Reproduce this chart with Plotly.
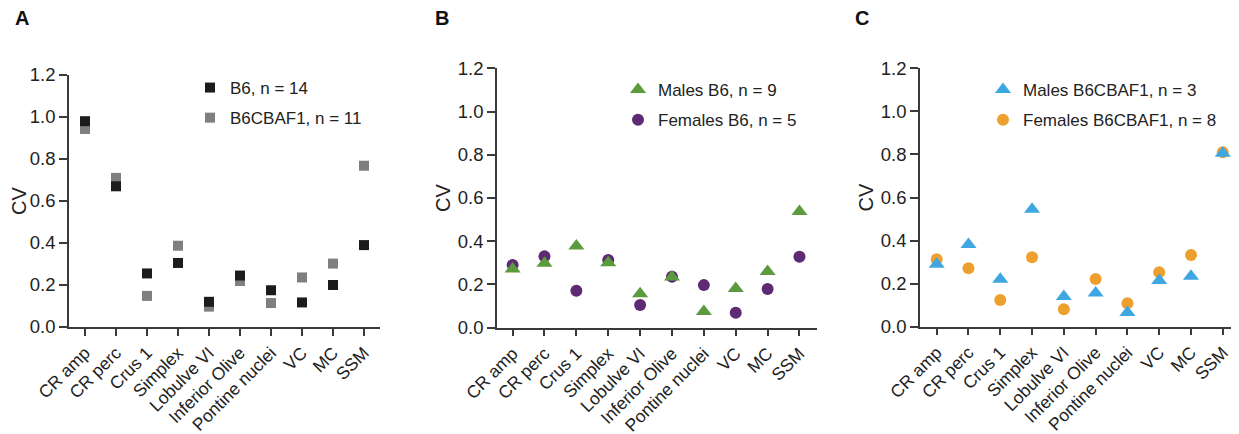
import plotly.graph_objects as go

# The page body has an 8px margin, so the figure is drawn 8px smaller and
# all reference pixel positions are shifted by that offset.
OFF = 8
W, H = 1239 - OFF, 434 - OFF

categories = ["CR amp", "CR perc", "Crus 1", "Simplex", "Lobulve VI", "Inferior Olive",
              "Pontine nuclei", "VC", "MC", "SSM"]

# Panel A
b6 = [0.98, 0.67, 0.255, 0.305, 0.12, 0.245, 0.175, 0.117, 0.20, 0.39]
b6cbaf1 = [0.943, 0.71, 0.148, 0.387, 0.097, 0.219, 0.114, 0.236, 0.302, 0.768]

# Panel B
males_b6 = [0.272, 0.298, 0.378, 0.30, 0.157, 0.235, 0.075, 0.181, 0.26, 0.538]
females_b6 = [0.29, 0.33, 0.171, 0.313, 0.105, 0.236, 0.197, 0.069, 0.179, 0.328]

# Panel C
males_cbaf = [0.29, 0.382, 0.22, 0.546, 0.14, 0.156, 0.066, 0.215, 0.234, 0.806]
females_cbaf = [0.313, 0.271, 0.124, 0.322, 0.081, 0.222, 0.109, 0.253, 0.333, 0.81]

panel_labels = ["A", "B", "C"]
y_ticks = [0.0, 0.2, 0.4, 0.6, 0.8, 1.0, 1.2]

FONT = "Arial, Liberation Sans, sans-serif"
AX = "#3a3a3a"

fig = go.Figure()

def px_x(p):
    return (p - OFF) / W

def px_y(p):
    return 1 - (p - OFF) / H

# Panel A (draw gray first, black on top)
fig.add_trace(go.Scatter(x=categories, y=b6cbaf1, mode="markers", name="B6CBAF1, n = 11",
                         marker=dict(symbol="square", size=10, color="#7f7f7f"),
                         xaxis="x", yaxis="y", legend="legend", legendrank=2,
                         legendgroup="a2", cliponaxis=False))
fig.add_trace(go.Scatter(x=categories, y=b6, mode="markers", name="B6, n = 14",
                         marker=dict(symbol="square", size=10, color="#1c1c1c"),
                         xaxis="x", yaxis="y", legend="legend", legendrank=1,
                         legendgroup="a1", cliponaxis=False))
# Panel B
fig.add_trace(go.Scatter(x=categories, y=females_b6, mode="markers", name="Females B6, n = 5",
                         marker=dict(symbol="circle", size=12, color="#5e2a73"),
                         xaxis="x2", yaxis="y2", legend="legend2", legendrank=2,
                         legendgroup="b2", cliponaxis=False))
fig.add_trace(go.Scatter(x=categories, y=males_b6, mode="markers", name="Males B6, n = 9",
                         marker=dict(symbol="triangle-up", size=14, color="#5c9b3d"),
                         xaxis="x2", yaxis="y2", legend="legend2", legendrank=1,
                         legendgroup="b1", cliponaxis=False))
# Panel C
fig.add_trace(go.Scatter(x=categories, y=females_cbaf, mode="markers", name="Females B6CBAF1, n = 8",
                         marker=dict(symbol="circle", size=12, color="#eea02f"),
                         xaxis="x3", yaxis="y3", legend="legend3", legendrank=2,
                         legendgroup="c2", cliponaxis=False))
fig.add_trace(go.Scatter(x=categories, y=males_cbaf, mode="markers", name="Males B6CBAF1, n = 3",
                         marker=dict(symbol="triangle-up", size=14, color="#3ea7e1"),
                         xaxis="x3", yaxis="y3", legend="legend3", legendrank=1,
                         legendgroup="c1", cliponaxis=False))

panels = [
    # (xaxis name, yaxis name, x0, x1, ytop, ybot, range lo, range hi)
    ("xaxis", "yaxis", 69, 380, 75, 327, -0.516, 9.516),
    ("xaxis2", "yaxis2", 497, 817, 68.3, 327.7, -0.49, 9.55),
    ("xaxis3", "yaxis3", 920, 1239, 68.3, 326.7, -0.525, 9.51),
]

layout = {}
for i, (xa, ya, x0, x1, yt, yb, lo, hi) in enumerate(panels):
    sfx = "" if i == 0 else str(i + 1)
    layout[xa] = dict(domain=[px_x(x0), min(1.0, px_x(x1))], anchor="y" + sfx, automargin=False,
                      type="category", categoryorder="array", categoryarray=categories,
                      range=[lo, hi], showline=True, linecolor=AX, linewidth=1.5,
                      ticks="outside", ticklen=7, tickwidth=1.5, tickcolor=AX,
                      tickangle=-45, showgrid=False, zeroline=False,
                      tickfont=dict(family=FONT, size=17.5, color="#222"))
    layout[ya] = dict(domain=[px_y(yb), px_y(yt)], anchor="x" + sfx, automargin=False,
                      range=[0, 1.2], tickvals=y_ticks, tickformat=".1f",
                      showline=True, linecolor=AX, linewidth=1.5,
                      ticks="outside", ticklen=8, tickwidth=1.5, tickcolor=AX,
                      showgrid=False, zeroline=False,
                      tickfont=dict(family=FONT, size=18.5, color="#222"),
                      title=dict(text="CV", font=dict(family=FONT, size=20, color="#222"),
                                 standoff=2))

leg_common = dict(xanchor="left", yanchor="top", bgcolor="rgba(0,0,0,0)",
                  font=dict(family=FONT, size=17, color="#222"), tracegroupgap=5,
                  itemclick=False, itemdoubleclick=False)
layout["legend"] = dict(x=px_x(190), y=px_y(70), **leg_common)
layout["legend2"] = dict(x=px_x(618), y=px_y(72), **leg_common)
layout["legend3"] = dict(x=px_x(983), y=px_y(72), **leg_common)

annotations = []
for lab, xp in zip(panel_labels, [22, 442, 862]):
    annotations.append(dict(text="<b>" + lab + "</b>", x=px_x(xp), y=px_y(18),
                            xref="paper", yref="paper", showarrow=False,
                            xanchor="center", yanchor="middle",
                            font=dict(family=FONT, size=20, color="#111")))

fig.update_layout(width=W, height=H, margin=dict(l=0, r=0, t=0, b=0, autoexpand=False),
                  paper_bgcolor="white", plot_bgcolor="white",
                  showlegend=True, annotations=annotations, **layout)

fig.write_html("out.html")
